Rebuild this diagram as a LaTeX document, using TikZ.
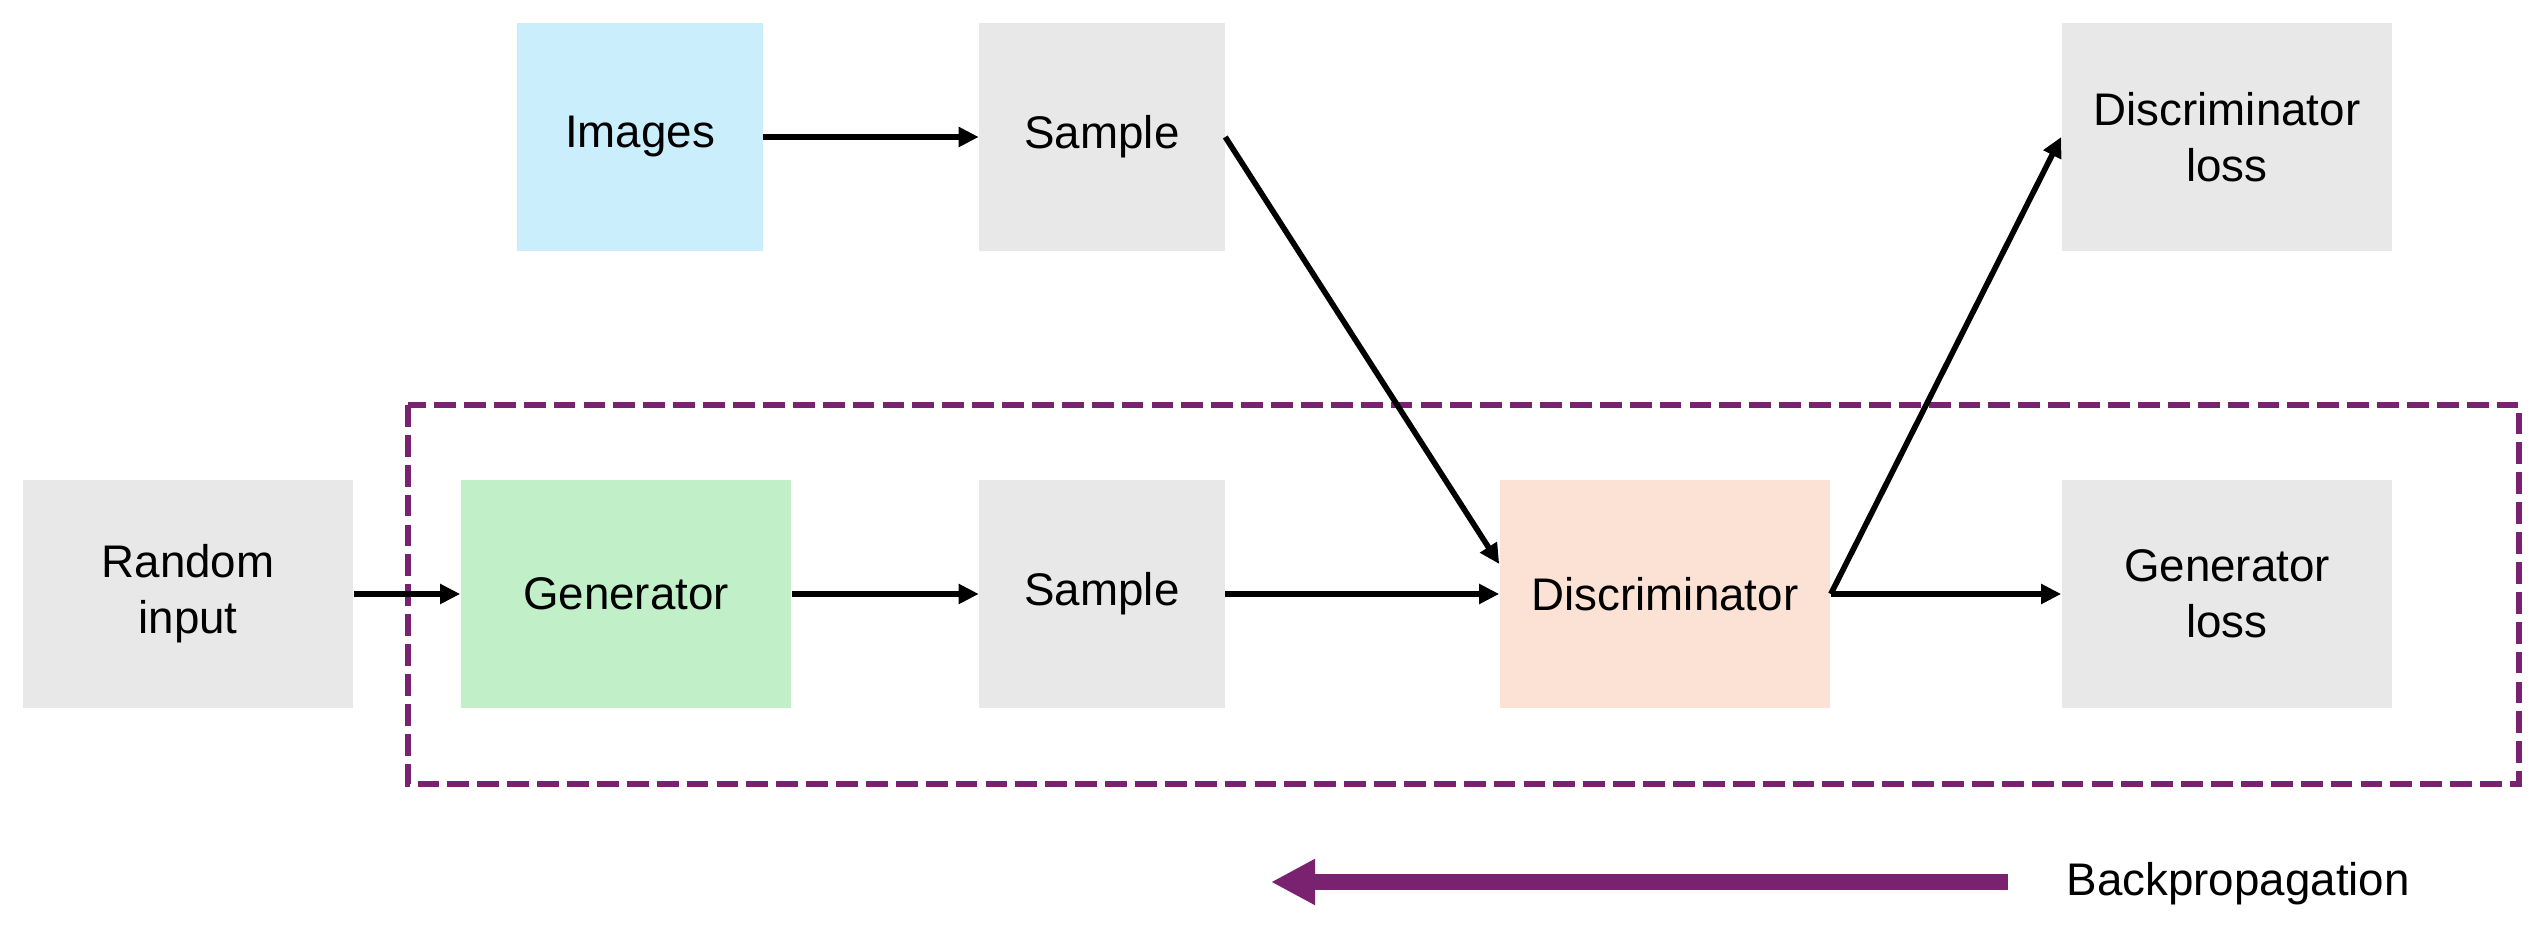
\documentclass[tikz,border=0pt]{standalone}
\usepackage{fontspec}
\setmainfont{Liberation Sans}
\usetikzlibrary{arrows.meta}
\definecolor{cgray}{HTML}{E8E8E8}
\definecolor{cblue}{HTML}{CAEEFB}
\definecolor{cgreen}{HTML}{C1F0C8}
\definecolor{corange}{HTML}{FBE2D5}
\definecolor{cpurple}{HTML}{7A2270}
\tikzset{
  box/.style={draw=none, inner sep=0pt, minimum height=2.28cm, align=center,
    font=\fontsize{13}{16}\selectfont},
  narrow/.style={box, minimum width=2.45cm},
  wide/.style={box, minimum width=3.3cm},
  conn/.style={line width=1.6pt, -{Triangle[length=0.2cm,width=0.19cm]}},
  backarrow/.style={cpurple, line width=4.3pt, -{Triangle[length=0.44cm,width=0.43cm]}},
  groupbox/.style={cpurple, line width=1.9pt, dash pattern=on 6.2pt off 2.3pt}
}
\begin{document}
\begin{tikzpicture}[x=0.01cm, y=-0.01cm]
\useasboundingbox (0,0) rectangle (2547,940);
% top row
\node[narrow, fill=cblue] (img) at (640,137) {Images};
\node[narrow, fill=cgray] (s1) at (1102,137) {Sample};
\node[wide, fill=cgray] (dl) at (2227,137) {Discriminator\\loss};
% bottom row
\node[wide, fill=cgray] (ri) at (188,594) {Random\\input};
\node[wide, fill=cgreen] (gen) at (626,594) {Generator};
\node[narrow, fill=cgray] (s2) at (1102,594) {Sample};
\node[wide, fill=corange] (disc) at (1665,594) {Discriminator};
\node[wide, fill=cgray] (gl) at (2227,594) {Generator\\loss};
% dashed group
\draw[groupbox] (408,405) rectangle (2519,784);
% connectors
\draw[conn] (img.east) -- (s1.west);
\draw[conn] (ri.east) -- (gen.west);
\draw[conn] (gen.east) -- (s2.west);
\draw[conn] (s2.east) -- (disc.west);
\draw[conn] (s1.east) -- ([yshift=0.3cm]disc.west);
\draw[conn] (disc.east) -- (dl.west);
\draw[conn] (disc.east) -- (gl.west);
% backpropagation
\coordinate (bpR) at (2008,882);
\coordinate (bpL) at (1271,882);
\draw[backarrow] (bpR) -- (bpL);
\node[anchor=west, inner sep=0pt, font=\fontsize{13}{16}\selectfont] (bp) at (2066,884) {Backpropagation};
\end{tikzpicture}
\end{document}
